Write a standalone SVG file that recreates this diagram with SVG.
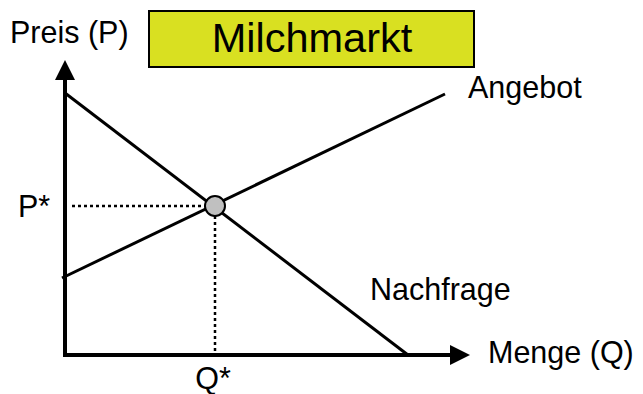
<svg xmlns="http://www.w3.org/2000/svg" width="643" height="394" viewBox="0 0 643 394">
<style>
text{font-family:"Liberation Sans",Arial,sans-serif;fill:#000}
.lbl{font-size:30.5px}
.axis{stroke:#000;stroke-width:4;fill:none}
.curve{stroke:#000;stroke-width:3;fill:none}
.dot{stroke:#000;stroke-width:2.5;stroke-dasharray:3,3;fill:none}
</style>
<defs>
<marker id="ah" markerWidth="5" markerHeight="5" refX="0" refY="2.5" orient="auto" markerUnits="strokeWidth"><path d="M0,0 L5,2.5 L0,5 Z" fill="#000"/></marker>
</defs>
<rect width="643" height="394" fill="#fff"/>
<g id="title">
<rect x="149" y="11" width="325" height="56" fill="#d9e021" stroke="#000" stroke-width="2"/>
<text x="312" y="52" font-size="41.5" text-anchor="middle">Milchmarkt</text>
</g>
<g id="connectors">
<line class="axis" x1="65" y1="357" x2="65" y2="80" marker-end="url(#ah)"/>
<line class="axis" x1="63" y1="355" x2="450" y2="355" marker-end="url(#ah)"/>
<line class="curve" x1="65" y1="93" x2="408" y2="355"/>
<line class="curve" x1="62" y1="278" x2="445" y2="94"/>
<line class="dot" x1="72" y1="206" x2="205" y2="206"/>
<line class="dot" x1="215" y1="216" x2="215" y2="354"/>
</g>
<g id="equilibrium">
<circle cx="215" cy="206" r="10" fill="#c0c0c0" stroke="#000" stroke-width="2"/>
</g>
<g id="labels">
<text class="lbl" x="10" y="43">Preis (P)</text>
<text class="lbl" x="18" y="217">P*</text>
<text class="lbl" x="213" y="389" text-anchor="middle">Q*</text>
<text class="lbl" x="468" y="98">Angebot</text>
<text class="lbl" x="370" y="300">Nachfrage</text>
<text class="lbl" x="488" y="363">Menge (Q)</text>
</g>
</svg>
